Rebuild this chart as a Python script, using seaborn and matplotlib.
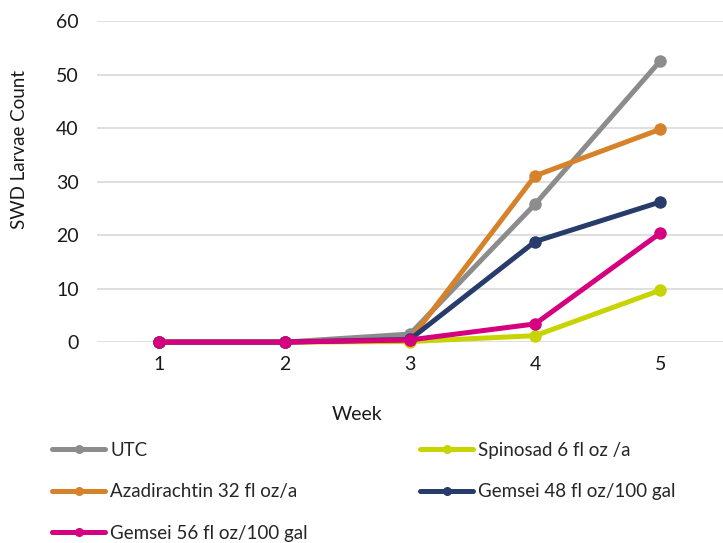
import matplotlib
matplotlib.use("Agg")
import matplotlib.pyplot as plt
import seaborn as sns
import pandas as pd

weeks = [1, 2, 3, 4, 5]
series_names = ["UTC", "Spinosad 6 fl oz /a", "Azadirachtin 32 fl oz/a",
                "Gemsei 48 fl oz/100 gal", "Gemsei 56 fl oz/100 gal"]
utc = [0, 0, 1.5, 25.8, 52.6]
spinosad = [0, 0, 0.1, 1.2, 9.7]
azadirachtin = [0, 0, 0.4, 31.1, 39.8]
gemsei48 = [0, 0, 0.5, 18.8, 26.2]
gemsei56 = [0, 0, 0.4, 3.4, 20.4]
colors = ["#8C8C8C", "#C8D400", "#D6822A", "#283C6B", "#D4007F"]
yticks = [0, 10, 20, 30, 40, 50, 60]

values = [utc, spinosad, azadirachtin, gemsei48, gemsei56]
rows = []
for name, vals in zip(series_names, values):
    for w, v in zip(weeks, vals):
        rows.append({"Week": w, "Count": v, "Series": name})
df = pd.DataFrame(rows)

sns.set_theme(style="white")
plt.rcParams["font.family"] = ["Lato", "DejaVu Sans"]

fig = plt.figure(figsize=(7.23, 5.43), dpi=100)
ax = fig.add_axes([0.134, 0.370, 0.866, 0.591])

sns.lineplot(data=df, x="Week", y="Count", hue="Series", hue_order=series_names,
             palette=colors, marker="o", markersize=9, linewidth=3.6,
             markeredgewidth=0, ax=ax, legend=True)

ax.set_xlim(0.5, 5.5)
ax.set_ylim(0, 60)
ax.set_xticks(weeks)
ax.set_yticks(yticks)
ax.tick_params(axis="both", length=0, labelsize=14, colors="#1a1a1a")
ax.tick_params(axis="y", pad=13)
ax.tick_params(axis="x", pad=10)
ax.yaxis.grid(True, color="#D9D9D9", linewidth=1.2)
ax.set_axisbelow(True)
for s in ax.spines.values():
    s.set_visible(False)
for line in ax.lines:
    line.set_clip_on(False)
ax.set_xlabel("Week", fontsize=14, color="#1a1a1a")
ax.set_ylabel("SWD Larvae Count", fontsize=13.5, color="#1a1a1a")
ax.xaxis.set_label_coords(0.415, -0.200)
ax.yaxis.set_label_coords(-0.110, 0.601)

handles, labels = ax.get_legend_handles_labels()
ax.get_legend().remove()
hmap = dict(zip(labels, handles))

def add_legend(names, x):
    leg = fig.legend([hmap[n] for n in names], names, loc="upper left",
                     bbox_to_anchor=(x, 0.186), frameon=False, fontsize=13.5,
                     handlelength=2.85, handletextpad=0.25, labelspacing=1.3,
                     borderaxespad=0, borderpad=0)
    for h in leg.legend_handles:
        h.set_markersize(6.5)
        h.set_linewidth(3.6)
    return leg

add_legend([series_names[0], series_names[2], series_names[4]], 52 / 723)
add_legend([series_names[1], series_names[3]], 420 / 723)

fig.savefig("out.png", dpi=100)
